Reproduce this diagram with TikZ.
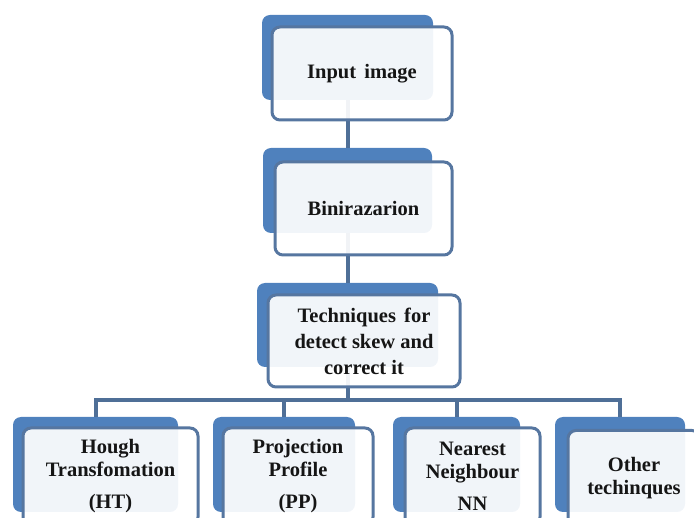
\documentclass[tikz,border=0pt]{standalone}
\usepackage{fontspec}
\setmainfont{Liberation Serif}
\definecolor{backblue}{HTML}{4F81BD}
\definecolor{frontline}{HTML}{5676A0}
\definecolor{conn}{HTML}{4F6F97}
\definecolor{txt}{HTML}{151515}
\tikzset{
  backbox/.style={draw=none, fill=backblue, rounded corners=8pt, inner sep=0pt},
  frontbox/.style={draw=frontline, line width=3pt, fill=white, fill opacity=0.92, text opacity=1,
     rounded corners=8pt, inner sep=0pt, align=center, text=txt,
     font=\bfseries\fontsize{20.5}{23}\selectfont},
  link/.style={draw=conn, line width=4pt}
}
\begin{document}
\begin{tikzpicture}[x=1pt,y=-1pt]
\useasboundingbox (0,0) rectangle (694,518);
\clip (0,0) rectangle (694,518);
% back boxes
\node[backbox, minimum width=171pt, minimum height=85pt] (b1) at (347.5,57.5) {};
\node[backbox, minimum width=169pt, minimum height=85pt] (b2) at (347.5,190.5) {};
\node[backbox, minimum width=181pt, minimum height=84pt] (b3) at (347.5,325) {};
\node[backbox, minimum width=165pt, minimum height=95pt] (b4) at (95.5,464.5) {};
\node[backbox, minimum width=142pt, minimum height=95pt] (b5) at (284,464.5) {};
\node[backbox, minimum width=127pt, minimum height=95pt] (b6) at (456.5,464.5) {};
\node[backbox, minimum width=130pt, minimum height=95pt] (b7) at (620,464.5) {};
% connectors
\coordinate (bar) at (347.5,400);
\draw[link] (b1.south) -- (b2.north);
\draw[link] (b2.south) -- (b3.north);
\draw[link] (b3.south) -- (bar);
\draw[link] (b4.north) -- (b4.north |- bar) -| (b7.north);
\draw[link] (b5.north) -- (b5.north |- bar);
\draw[link] (b6.north) -- (b6.north |- bar);
% front boxes
\node[frontbox, minimum width=180pt, minimum height=93pt] (f1) at (362,73.5) {Input\hspace{0.4em}image};
\node[frontbox, minimum width=177pt, minimum height=93pt] (f2) at (363.5,208.5) {Binirazarion};
\node[frontbox, minimum width=192pt, minimum height=92pt, font=\bfseries\fontsize{20.5}{26}\selectfont] (f3) at (364,341) {Techniques\hspace{0.4em}for\\detect skew and\\correct it};
\node[frontbox, minimum width=175pt, minimum height=97pt] (f4) at (110.5,476.5) {Hough\\Transfomation\\[9pt](HT)};
\node[frontbox, minimum width=150pt, minimum height=97pt] (f5) at (298,476.5) {Projection\\Profile\\[9pt](PP)};
\node[frontbox, minimum width=135pt, minimum height=97pt] (f6) at (472.5,476.5) {Nearest\\Neighbour\\[9pt]NN};
\node[frontbox, minimum width=132pt, minimum height=95pt] (f7) at (634,478) {Other\\techinques};
\end{tikzpicture}
\end{document}
